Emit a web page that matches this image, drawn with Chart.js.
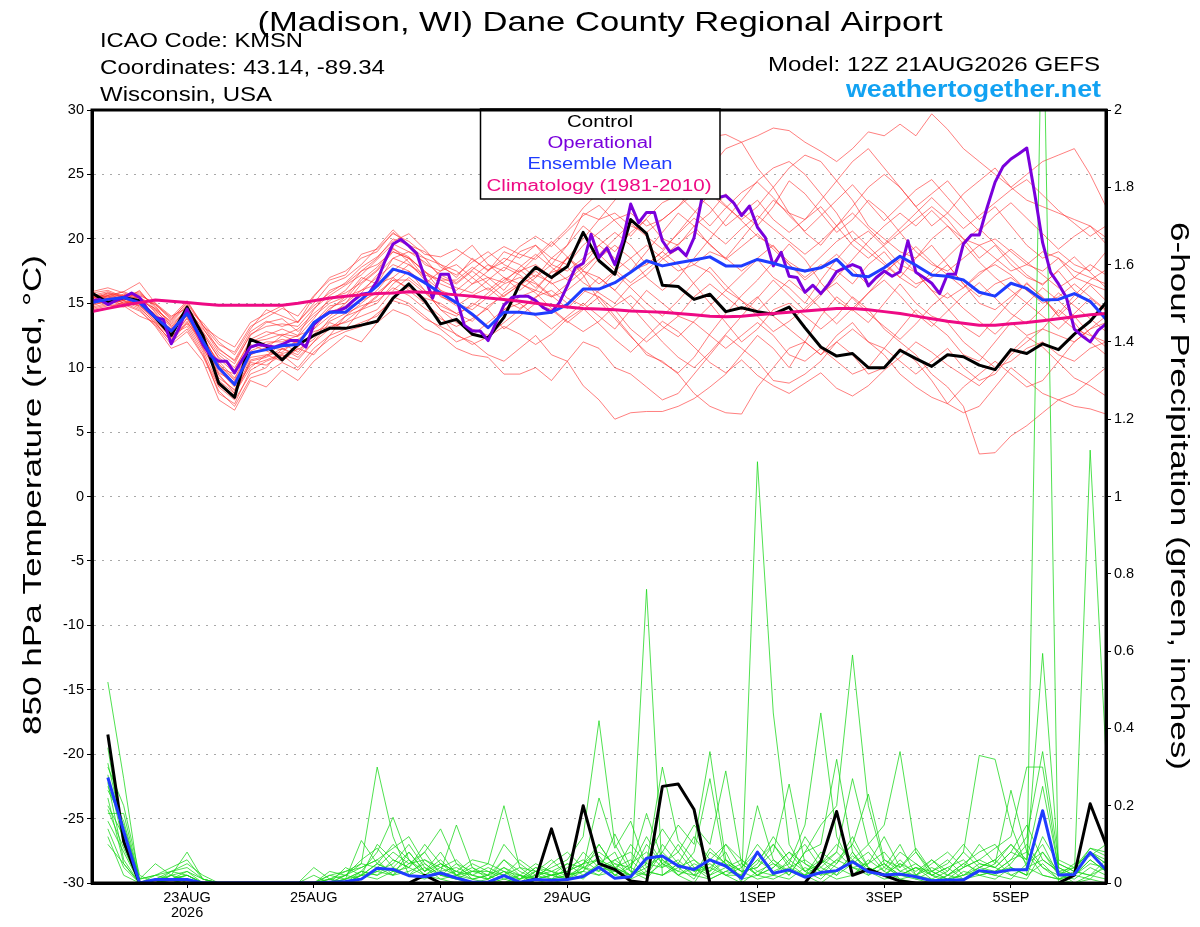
<!DOCTYPE html>
<html>
<head>
<meta charset="utf-8">
<script src="https://cdn.jsdelivr.net/npm/chart.js@4.4.1/dist/chart.umd.min.js"></script>
<style>
html,body{margin:0;padding:0;background:#fff;}
canvas{display:block;}
</style>
</head>
<body>
<canvas id="c" width="1200" height="927"></canvas>
<script>
// ---------------- DATA ----------------
// Time axis: hours after 12Z 21AUG2026. Temperature every 6 h from hour 0,
// operational every 3 h from hour 0, precipitation (6-h totals) every 6 h from hour 6.
const tempStepHours = 6;
const opStepHours = 3;
const precipStartHour = 6;

const xTickHours  = [36, 84, 132, 180, 252, 300, 348];
const xTickLabels = [['23AUG', '2026'], '25AUG', '27AUG', '29AUG', '1SEP', '3SEP', '5SEP'];

// 850 hPa temperature (deg C)
const controlTemp = [
  15.8,15.05,15.45,15.2,13.9,12.5,14.7,12.5,8.8,7.7,12.2,11.7,10.6,11.8,12.5,13.05,13.05,13.3,13.6,15.4,16.5,15.2,13.4,13.75,
  12.6,12.3,13.9,16.5,17.8,17.0,17.85,20.5,18.3,17.25,21.5,20.4,16.4,16.3,15.3,15.7,14.35,14.65,14.35,14.15,
  14.7,13.1,11.6,10.9,11.1,10.0,10.0,11.35,10.7,10.1,11.0,10.85,10.2,9.85,11.4,11.1,11.85,11.4,12.6,13.6,15.05
];
const operationalTemp = [
  15.2,15.3,14.9,15.2,15.45,15.8,15.45,14.55,13.9,13.75,
  11.85,13.1,14.55,13.1,11.8,10.9,10.5,10.5,9.6,10.65,
  11.6,11.8,11.7,11.6,11.8,12.1,12.1,11.6,13.35,13.9,
  14.3,14.4,14.65,15.2,15.7,15.8,16.75,18.3,19.6,19.95,
  19.45,18.85,17.0,15.4,17.25,17.25,15.4,13.3,12.85,12.85,
  12.1,13.5,14.85,15.45,15.55,15.55,15.2,14.65,14.3,15.05,
  16.35,17.75,18.1,20.35,18.55,19.3,18.0,19.85,22.7,21.25,
  22.05,22.05,19.85,18.95,19.3,18.7,20.1,23.2,24.0,23.2,
  23.35,22.8,21.8,22.55,20.9,20.1,17.9,18.95,17.1,17.0,
  15.85,16.4,15.75,16.5,17.45,17.75,18.0,17.75,16.35,17.0,
  17.5,17.1,17.45,19.85,17.4,17.0,16.55,15.75,17.25,17.25,
  19.6,20.3,20.3,22.45,24.4,25.6,26.2,26.6,27.05,23.5,
  19.7,17.4,16.5,15.45,13.0,12.45,12.0,12.9,13.4
];
const meanTemp = [
  15.05,15.3,15.45,15.05,13.9,12.85,14.2,12.05,10.0,8.7,11.15,11.4,11.7,11.8,13.5,14.3,14.3,15.3,16.35,17.65,17.3,16.6,15.8,15.05,
  14.15,13.1,14.3,14.3,14.15,14.3,14.9,16.1,16.1,16.6,17.4,18.3,17.9,18.15,18.35,18.6,17.9,17.9,18.4,18.1,
  17.75,17.5,17.75,18.4,17.2,17.05,17.75,18.65,17.95,17.2,17.1,16.8,15.85,15.55,16.55,16.15,15.25,15.3,15.75,15.15,13.75
];
const climoTemp = [
  14.35,14.6,14.85,15.05,15.25,15.15,15.05,14.95,14.85,14.85,14.85,14.85,14.85,15.0,15.2,15.4,15.55,15.65,15.75,15.8,15.9,15.85,
  15.75,15.65,15.55,15.4,15.3,15.15,15.0,14.85,14.7,14.6,14.55,14.5,14.4,14.35,14.3,14.2,14.1,14.0,13.95,14.0,14.1,
  14.2,14.3,14.4,14.5,14.6,14.6,14.5,14.35,14.2,14.0,13.8,13.6,13.45,13.3,13.3,13.4,13.5,13.65,13.8,13.95,14.1,14.2
];

// Ensemble member temperatures (6-hourly, 65 values each)
const memberTemp01 = [15.5,15.8,15.2,14.6,13.5,12.0,13.0,11.0,8.5,7.5,9.5,10.0,11.5,10.8, 12.0,13.5,13.0,14.5,15.5,17.0,16.0,15.0,14.0,12.5,12.0,11.0,10.5,11.5, 12.5,11.0,10.5,12.0,11.5,10.0,9.5,8.5,7.5,8.0,9.5,11.0,12.5,11.5, 10.5,9.0,8.8,9.5,10.5,12.0,11.0,9.5,10.0,11.5,10.5,9.0,7.2,6.5, 7.0,8.5,10.0,9.0,8.0,7.5,7.0,6.8,6.4];
const memberTemp02 = [15.2,15.5,15.9,16.6,15.0,13.8,15.0,13.2,12.3,11.6,13.5,14.2,14.8,13.5, 15.5,17.0,17.5,18.5,19.0,20.5,19.5,18.0,17.5,18.5,19.5,18.0,17.5,19.0, 19.5,18.0,19.5,22.0,21.5,22.0,21.0,20.5,21.5,22.5,24.0,25.5,27.0,27.5, 28.0,28.6,28.4,27.5,26.8,26.0,27.0,28.3,28.0,28.9,28.0,29.7,28.5,27.0, 26.0,25.0,24.0,23.0,22.5,22.0,21.5,21.0,20.1];
const memberTemp03 = [15.0,15.1,15.3,15.5,14.3,12.8,14.5,12.5,10.2,9.0,11.0,11.5,12.5,12.0, 13.5,14.8,15.0,16.5,17.5,19.0,18.5,17.0,16.0,15.5,16.5,17.0,16.0,17.5, 18.0,17.0,18.5,20.0,21.5,23.0,24.5,25.0,25.5,26.0,27.0,27.9,28.1,27.5, 25.5,24.0,22.0,21.5,23.0,24.5,23.0,21.0,20.0,19.0,18.5,20.0,21.0,20.0, 19.5,20.0,19.0,18.0,17.5,18.5,17.0,16.5,16.0];
const memberTemp04 = [15.8,16.0,15.5,15.0,13.8,13.0,14.0,11.5,9.5,8.0,10.5,10.8,11.5,11.0, 12.5,13.0,14.0,15.0,16.0,17.5,18.5,17.5,16.0,15.0,14.0,13.0,14.5,15.5, 16.0,15.5,16.5,17.5,17.0,16.0,17.5,18.0,19.0,18.0,16.5,15.0,13.5,12.0, 13.0,14.5,15.0,14.0,13.0,14.0,15.5,14.5,13.0,12.0,11.0,9.5,8.5,7.0, 3.3,3.4,4.7,5.5,6.5,7.5,8.0,9.0,10.0];
const memberTemp05 = [14.5,14.8,15.0,14.5,13.2,11.5,12.0,10.5,7.5,6.7,9.0,8.5,9.8,9.0, 10.5,11.5,12.5,12.0,13.5,14.5,14.0,13.0,12.5,11.5,11.0,10.8,9.5,9.5, 10.0,9.0,10.5,8.6,7.5,6.0,6.5,6.6,6.6,7.0,7.6,8.5,9.5,11.0, 12.5,11.5,10.0,12.0,14.0,15.5,14.5,13.5,15.0,16.5,15.0,14.0,13.5,12.0, 11.0,10.0,10.5,11.5,12.0,11.0,10.5,11.5,12.0];
const memberTemp06 = [15.3,15.6,15.0,15.2,14.6,13.5,14.8,12.8,11.0,10.0,12.0,12.5,13.0,12.5, 14.5,16.0,16.5,17.5,18.5,20.0,19.5,18.5,18.0,17.0,18.5,17.5,18.5,18.0, 17.0,18.5,19.5,21.0,20.0,19.0,20.5,21.5,20.0,19.5,21.0,22.0,23.5,22.0, 21.0,22.5,24.5,23.5,22.0,20.5,21.5,23.0,22.0,20.5,21.5,22.5,21.5,20.0, 18.5,19.5,18.0,17.0,16.5,17.5,16.0,15.0,14.0];
const memberTemp07 = [14.8,15.2,14.8,14.0,13.5,12.0,13.5,12.0,9.0,8.0,10.0,11.0,10.5,11.5, 11.0,12.5,14.0,14.5,15.0,16.5,17.5,16.0,14.5,14.0,15.0,14.5,13.0,14.0, 15.0,14.5,13.5,14.5,15.5,14.0,12.5,11.0,10.5,9.5,8.0,7.0,6.5,6.4, 8.5,10.0,11.5,12.0,11.0,12.5,13.5,12.0,11.5,13.0,14.5,13.5,12.5,11.0, 10.5,12.0,13.5,12.5,13.0,14.5,13.5,12.0,11.0];
const memberTemp08 = [15.5,15.4,15.7,15.3,14.0,13.0,14.2,12.2,10.5,9.2,11.5,12.0,12.0,12.5, 13.0,14.5,15.5,17.0,16.5,18.5,19.0,18.5,17.0,16.5,17.5,16.5,15.5,16.5, 17.5,16.5,17.0,18.0,19.5,18.5,17.5,19.0,20.5,22.0,21.0,19.5,18.5,20.0, 21.5,23.0,22.0,20.5,19.5,21.0,22.5,24.0,25.0,24.0,22.5,21.0,22.0,23.5, 24.5,25.5,24.0,25.0,26.0,26.5,27.0,25.0,22.5];
const memberTemp09 = [15.0,15.3,15.6,15.8,14.8,13.2,14.0,13.0,11.5,10.5,12.5,13.5,13.8,12.8, 14.0,15.0,15.5,16.0,17.0,18.0,17.5,16.5,17.5,18.0,17.0,16.0,17.0,16.5, 16.0,17.5,18.5,17.5,16.5,17.5,18.5,19.5,18.5,17.5,18.0,19.0,18.5,17.5, 18.5,19.5,18.0,17.0,18.0,17.5,16.5,18.0,19.0,17.5,16.5,17.0,18.0,16.5, 15.5,16.5,17.0,16.0,15.0,15.5,16.5,15.5,14.5];
const memberTemp10 = [15.6,15.9,15.4,14.8,13.6,12.3,13.8,11.8,9.8,8.5,10.8,11.0,11.2,12.2, 13.0,14.0,15.0,16.0,16.5,17.0,18.0,17.0,15.5,15.0,14.5,15.5,16.5,17.0, 16.5,15.5,16.0,17.0,18.5,19.5,18.5,17.0,16.0,17.0,18.5,20.0,21.5,23.0, 24.5,25.5,26.0,25.0,23.5,22.0,20.0,19.0,18.0,17.0,18.5,19.5,18.0,16.5, 15.0,14.5,15.5,16.5,15.5,14.0,13.0,12.5,12.0];
const memberTemp11 = [15.2,15.0,15.2,15.0,14.2,12.6,14.3,12.3,10.0,9.5,11.8,11.3,10.8,11.6, 12.8,13.2,13.5,14.0,14.5,16.0,17.0,16.0,14.5,13.5,13.0,12.5,13.5,14.5, 15.5,16.0,15.0,16.0,15.5,14.5,13.0,12.0,13.0,14.0,13.5,12.5,11.5,12.5, 13.5,12.5,11.0,10.5,11.5,10.5,9.5,10.0,11.5,10.5,9.5,10.5,11.5,10.0, 9.0,9.5,11.0,12.0,13.0,12.5,12.0,13.0,13.5];
const memberTemp12 = [15.4,15.7,15.5,15.6,15.0,14.0,14.6,13.5,12.0,11.0,13.0,14.5,14.0,13.5, 15.0,16.5,17.0,18.0,19.3,20.7,19.5,19.0,18.0,17.5,16.5,17.5,19.0,18.5, 19.5,18.5,18.0,19.5,20.5,21.5,22.0,21.0,21.5,22.5,23.5,22.5,21.0,22.0, 23.0,21.5,20.5,21.5,22.5,21.0,19.5,18.5,19.5,20.5,19.0,18.0,17.5,18.5, 19.5,18.5,17.5,18.0,19.0,18.5,17.5,17.0,16.5];
const memberTemp13 = [14.3,14.6,15.1,14.8,13.8,12.5,13.2,11.2,8.0,7.2,9.8,10.5,11.0,10.0, 11.5,12.5,13.0,13.5,14.0,15.5,15.0,14.0,13.0,12.0,12.5,13.5,14.5,15.0, 14.0,13.0,14.0,15.0,14.0,13.0,14.5,16.0,15.0,14.0,15.5,16.5,15.5,14.5, 15.5,14.0,13.0,12.0,11.0,12.0,13.0,12.0,11.0,9.5,8.5,7.7,7.2,8.5, 9.5,10.5,9.5,8.5,9.0,10.5,12.0,13.0,14.0];
const memberTemp14 = [15.1,15.4,15.2,16.0,14.5,13.6,14.9,12.6,10.8,9.8,12.2,12.8,12.5,13.0, 14.2,15.2,16.0,17.5,18.0,19.0,18.5,17.5,16.5,16.0,17.0,18.0,17.0,16.0, 17.0,18.0,17.5,18.5,19.5,20.5,19.5,18.0,19.0,20.5,22.0,23.5,22.5,21.5, 22.5,24.0,25.5,26.5,26.0,24.5,26.0,27.0,25.5,24.0,22.5,23.5,24.5,23.0, 21.5,22.5,21.0,19.5,18.5,19.0,18.0,17.5,19.0];
const memberTemp15 = [15.9,16.2,15.8,15.4,14.4,13.3,14.4,12.4,10.3,9.1,11.3,11.8,12.2,11.9, 13.3,14.3,14.8,15.8,17.2,18.5,18.0,17.2,16.8,16.2,15.8,16.8,17.8,17.2, 16.2,17.4,17.8,16.6,15.8,15.0,16.4,17.2,18.4,19.2,18.0,17.4,16.0,17.2, 18.4,17.0,16.2,15.0,16.8,18.4,19.8,20.6,19.4,18.0,17.4,16.0,15.4,16.2, 17.4,18.0,17.2,16.0,15.4,14.0,15.2,16.4,15.2];
const memberTemp16 = [14.6,14.9,14.7,15.3,13.9,12.2,13.6,11.6,9.2,8.3,10.2,10.6,11.1,11.4, 12.2,13.8,14.6,15.2,15.8,16.8,16.2,15.4,15.0,14.2,13.6,14.8,15.6,16.4, 17.2,16.6,15.4,14.8,16.0,17.4,16.2,15.0,14.0,15.2,16.6,17.8,16.4,15.2, 14.4,15.6,16.8,15.8,14.6,13.4,14.6,15.8,16.8,15.6,14.2,13.2,14.4,15.6, 16.6,15.4,14.2,13.4,14.6,15.8,14.8,13.8,12.8];
const memberTemp17 = [15.7,15.5,15.0,15.1,14.1,12.9,14.1,12.1,9.6,8.9,11.0,11.6,11.4,12.0, 13.4,14.6,15.3,16.8,17.8,19.3,18.2,16.8,15.6,14.8,15.6,16.2,15.2,14.6, 15.4,16.8,18.6,17.2,15.2,13.8,12.4,11.2,10.4,9.6,10.8,12.6,14.2,15.6, 16.8,18.2,19.6,18.4,16.6,15.2,14.4,15.8,17.2,18.6,17.4,16.0,14.6,13.2, 12.4,13.8,15.2,16.6,15.4,14.2,15.6,16.8,17.6];
const memberTemp18 = [15.0,15.6,15.9,15.4,14.9,13.9,15.2,13.3,11.8,11.2,13.2,13.9,14.6,14.0, 15.6,16.8,17.2,18.8,19.2,20.4,19.8,18.8,18.6,19.2,18.4,17.6,18.2,19.4, 20.2,19.4,20.6,21.8,22.6,21.4,20.2,21.6,22.8,23.4,22.2,21.0,22.4,23.6, 24.4,23.2,21.8,20.6,21.8,23.0,24.2,22.8,21.4,22.6,23.8,24.6,23.2,21.8, 20.6,21.8,22.8,21.6,20.4,19.2,20.2,21.0,19.6];
const memberTemp19 = [14.9,15.1,15.4,14.7,13.4,12.1,13.9,11.9,9.4,8.2,10.6,10.9,11.9,11.2, 12.6,13.6,14.2,14.8,15.2,16.2,15.6,14.6,13.8,13.2,13.8,14.6,15.8,16.6, 15.8,14.6,13.6,12.8,13.6,14.8,15.6,14.4,13.2,12.4,13.6,14.8,16.0,15.2, 14.0,12.8,13.6,14.6,15.8,16.6,15.4,14.2,13.2,12.2,13.4,14.8,15.8,14.6, 13.6,12.6,13.8,15.0,16.2,15.2,14.0,12.6,11.6];
const memberTemp20 = [15.3,15.2,15.6,15.9,14.7,13.4,14.5,13.1,11.2,10.3,12.6,13.2,13.4,13.2, 14.6,15.6,16.4,17.2,18.4,19.6,19.0,18.2,17.2,16.6,17.6,18.6,19.4,18.8, 18.4,19.6,20.8,22.4,23.6,24.8,25.8,26.6,27.2,26.4,25.2,23.8,22.6,21.4, 20.2,19.4,18.2,17.4,18.6,19.8,20.6,19.4,18.2,17.0,16.2,17.4,18.6,19.8, 20.8,19.6,18.4,17.2,16.4,17.6,18.6,17.4,16.2];
const memberTemp21 = [15.6,15.3,14.9,14.4,13.3,11.8,12.8,10.9,8.2,7.0,9.2,9.6,10.4,9.8, 11.2,12.2,12.8,13.2,14.2,15.2,14.8,13.8,13.2,12.6,11.8,12.4,13.2,12.6, 11.8,12.6,13.8,14.6,13.4,12.2,11.2,12.4,13.6,12.8,11.6,10.4,9.6,10.6, 9.4,8.6,8.0,8.8,9.6,8.4,7.8,8.6,9.8,10.8,12.0,11.2,10.2,9.4, 8.6,9.8,11.2,12.4,11.6,10.4,9.2,8.6,7.8];
const memberTemp22 = [15.2,15.8,15.6,15.7,14.9,13.7,15.1,13.3,11.4,10.6,12.8,13.6,13.2,13.6, 14.8,15.8,16.6,17.8,18.6,19.8,20.4,19.2,17.8,17.2,18.2,19.0,18.0,17.4, 18.6,19.8,18.6,17.6,18.8,20.0,21.2,20.2,19.2,20.4,21.6,20.6,19.6,20.8, 21.8,20.8,19.8,18.8,19.8,21.0,22.0,20.8,19.6,20.8,22.0,23.2,22.0,20.8, 21.8,22.8,23.8,24.6,23.4,22.2,21.2,20.2,21.0];
const memberTemp23 = [15.4,15.6,15.3,15.5,14.5,13.1,14.6,12.7,10.7,9.6,12.0,12.2,12.6,12.4, 13.8,15.4,15.8,16.6,17.6,19.2,18.6,17.4,16.8,16.8,17.8,17.0,16.6,17.8, 18.8,17.8,16.8,17.8,18.8,17.6,16.6,17.6,18.6,19.6,20.6,19.6,18.4,19.4, 20.4,19.2,18.0,16.8,17.8,18.8,17.6,16.4,17.4,18.4,19.4,18.2,17.2,16.2, 17.2,18.2,19.2,18.2,17.2,16.2,17.0,18.0,17.2];
const memberTemp24 = [14.7,15.0,15.2,14.9,13.7,12.4,13.4,11.4,8.6,7.9,10.4,10.2,11.0,10.6, 12.0,13.0,13.6,14.6,15.6,16.8,16.8,15.8,14.8,14.2,14.8,15.8,16.8,17.6, 16.6,15.6,14.6,15.8,17.0,16.0,14.8,13.4,12.0,10.8,10.0,11.2,12.6,14.0, 15.4,16.8,15.6,14.4,15.6,17.0,18.4,19.8,21.0,22.0,21.0,22.2,21.0,19.6, 18.2,17.0,16.0,15.0,14.0,13.0,14.2,15.4,14.4];

// 6-hour precipitation (inches), hours 6..384 (64 values)
const controlPrecip = [
  0.384,0.108,0,0,0,0,0,0, 0,0,0,0,0,0,0,0, 0,0,0,0,0.02,0,0,0, 0,0,0,0.01,0.14,0.01,0.2,0.05,
  0.035,0.005,0,0.25,0.256,0.19,0,0, 0,0,0,0,0,0.055,0.185,0.02, 0.035,0.02,0.005,0,0,0,0,0, 0,0,0,0,0,0.02,0.205,0.1
];
const meanPrecip = [
  0.273,0.134,0,0.009,0.009,0.009,0,0, 0,0,0,0,0,0,0.002,0.004, 0.01,0.038,0.035,0.019,0.016,0.026,0.013,0.002,
  0.002,0.019,0.002,0.009,0.007,0.009,0.017,0.041, 0.012,0.016,0.064,0.07,0.044,0.035,0.06,0.044,
  0.012,0.08,0.025,0.034,0.015,0.027,0.032,0.055, 0.029,0.021,0.023,0.016,0.006,0.008,0.008,0.032,
  0.027,0.034,0.034,0.187,0.021,0.022,0.079,0.034
];
const memberPrecip01 = [0.52,0.27,0,0.01,0.03,0.05,0.02,0, 0,0,0,0,0,0,0.02,0.03, 0.05,0.30,0.12,0.02,0.04,0.01,0,0, 0,0,0.02,0,0,0.01,0.03,0.1, 0.04,0.02,0.1,0.05,0.02,0,0.06,0.02, 0,0.03,0.05,0.02,0.08,0.15,0.2,0.59, 0.2,0.05,0.01,0,0,0.02,0.05,0.03, 0.02,0.01,0.05,0.1,0.02,0.01,0.04,0.02];
const memberPrecip02 = [0.28,0.10,0,0,0.02,0.08,0.01,0, 0,0,0,0,0,0,0,0.01, 0.03,0.08,0.17,0.06,0.03,0.08,0.02,0, 0.01,0.03,0,0.02,0.04,0.06,0.12,0.42, 0.1,0.03,0.01,0.06,0.02,0.04,0.01,0.03, 0.02,0.06,0.1,0.04,0.02,0,0.03,0.06, 0.1,0.15,0.34,0.08,0.02,0,0.01,0.04, 0.06,0.02,0.01,0.08,0.03,0,0.01,0.05];
const memberPrecip03 = [0.25,0.15,0.01,0.02,0.04,0.06,0.01,0, 0,0,0,0,0,0,0.01,0.02, 0.04,0.06,0.09,0.12,0.05,0.02,0.01,0, 0,0.01,0,0.03,0.02,0.01,0.02,0.05, 0.08,0,0.76,0.02,0.04,0.01,0.08,0.05, 0.01,0.02,0.04,0.08,0.03,0.01,0.05,0.1, 0.04,0.02,0.06,0.02,0.01,0.03,0.08,0.33, 0.32,0.15,0.04,0.02,0.01,0.02,0.06,0.03];
const memberPrecip04 = [0.22,0.05,0,0,0.01,0.02,0,0, 0,0,0,0,0,0,0,0.04, 0.02,0.1,0.06,0.04,0.08,0.14,0.05,0.01, 0.02,0.06,0.03,0.01,0.05,0.08,0.04,0.02, 0.03,0.1,0.05,0.3,0.11,0.06,0.02,0.04, 0.06,0.03,0.02,0.04,0.06,0.03,0.01,0.02, 0.05,0.12,0.04,0.09,0.03,0.01,0.04,0.1, 0.05,0.24,0.08,0.02,0.01,0.03,0.02,0.04];
const memberPrecip05 = [0.2,0.12,0,0,0,0.01,0,0, 0,0,0,0,0,0,0.03,0.02, 0.01,0.04,0.08,0.05,0.06,0.03,0.15,0.04, 0.02,0,0.01,0.04,0.02,0.03,0.05,0.08, 0.05,0.02,0.04,0.08,0.15,0.1,0.34,0.06, 0.03,0.01,0.02,0.06,0.1,0.04,0.02,0.08, 0.02,0.04,0.1,0.02,0.05,0.08,0.04,0.06, 0.09,0.12,0.3,0.3,0.04,0.02,0.08,0.05];
const memberPrecip06 = [0.18,0.18,0.01,0.05,0.02,0,0,0, 0,0,0,0,0,0.04,0.01,0, 0.02,0.03,0.05,0.1,0.04,0.02,0.03,0.06, 0.05,0.2,0.04,0.01,0.02,0.01,0.04,0.06, 0.02,0.04,0.12,0.05,0.08,0.15,0.1,0.29, 0.05,0.02,0.01,0.03,0.02,0.05,0.08,0.04, 0.03,0.01,0.02,0.04,0.01,0,0.03,0.02, 0.01,0.04,0.02,2.4,0,0.02,0.01,0];
const memberPrecip07 = [0.16,0.08,0,0,0.03,0.04,0.01,0, 0,0,0,0,0,0,0,0.01, 0.11,0.05,0.03,0.02,0.06,0.04,0.02,0.01, 0,0.02,0.06,0.03,0.01,0.02,0.08,0.04, 0.06,0.03,0.02,0.1,0.05,0.02,0.04,0.08, 0,1.09,0.44,0.1,0.03,0.06,0.02,0.05, 0.08,0.03,0.01,0.02,0.04,0.02,0.01,0.03, 0.02,0.05,0.1,0.04,0.01,0,0.02,0.01];
const memberPrecip08 = [0.26,0.06,0,0.02,0.01,0.03,0,0, 0,0,0,0,0,0,0,0, 0.03,0.02,0.04,0.08,0.03,0.06,0.02,0.05, 0.03,0.01,0.02,0.05,0.03,0.02,0.04,0.22, 0.09,0.16,0.04,0.07,0.02,0.05,0.03,0.06, 0.03,0.04,0.08,0.256,0.05,0.02,0.03,0.07, 0.04,0.02,0.05,0.01,0,0.02,0.04,0.06, 0.04,0.08,0.06,0.594,0.05,0.03,0.02,0.06];
const memberPrecip09 = [0.3,0.2,0.02,0,0.01,0.02,0,0, 0,0,0,0,0,0,0,0.02, 0.06,0.09,0.04,0.02,0.01,0.03,0.04,0.02, 0.01,0.03,0.02,0,0.01,0.04,0.06,0.03, 0.127,0.04,0.18,0.06,0.03,0.08,0.27,0.04, 0.02,0.06,0.03,0.05,0.15,0.44,0.12,0.04, 0.05,0.08,0.03,0.02,0.06,0.03,0.08,0.04, 0.03,0.06,0.12,0.34,0.06,0.04,0.09,0.08];
const memberPrecip10 = [0.35,0.1,0,0,0,0.01,0,0, 0,0,0,0,0,0,0,0, 0.02,0.05,0.03,0.04,0.02,0.05,0.03,0.02, 0.04,0.02,0.01,0.03,0.02,0.05,0.02,0.04, 0.03,0.02,0.05,0.04,0.1,0.04,0.02,0.06, 0.01,0.2,0.06,0.02,0.08,0.1,0.32,0.08, 0.03,0.05,0.02,0.04,0.03,0.01,0.02,0.05, 0.04,0.02,0.04,0.06,0.03,0.02,1.12,0.33];
const memberPrecip11 = [0.12,0.02,0,0,0.02,0.03,0.01,0, 0,0,0,0,0,0,0.01,0.03, 0.04,0.06,0.02,0.05,0.08,0.02,0.01,0.03, 0.02,0.04,0.01,0.02,0.03,0.01,0.05,0.1, 0.04,0.06,0.02,0.05,0.03,0.02,0.01,0.03, 0.05,0.02,0.06,0.03,0.02,0.04,0.08,0.27, 0.1,0.04,0.02,0.01,0.03,0.06,0.02,0.04, 0.06,0.1,0.05,0.08,0.02,0.04,0.08,0.06];
const memberPrecip12 = [0.1,0.05,0,0.01,0,0,0,0, 0,0,0,0,0,0,0.02,0.01, 0.02,0.01,0.03,0.06,0.02,0.01,0.02,0.04, 0.01,0.06,0.02,0.01,0.02,0.03,0.01,0.05, 0.02,0.01,0.03,0.02,0.05,0.03,0.04,0.02, 0.04,0.08,0.02,0.01,0.04,0.02,0.06,0.1, 0.23,0.06,0.03,0.05,0.02,0.04,0.01,0.02, 0.03,0.04,0.02,0.05,0.01,0.02,0.06,0.03];
const memberPrecip13 = [0.14,0.04,0,0,0.01,0.02,0,0, 0,0,0,0,0,0,0.01,0, 0.02,0.05,0.1,0.06,0.02,0.04,0.06,0.02, 0.01,0.04,0.02,0.01,0.02,0.03,0.05,0.06, 0.04,0.02,0.06,0.14,0.08,0.03,0.05,0.02, 0.02,0.05,0.12,0.06,0.03,0.05,0.1,0.06, 0.03,0.05,0.02,0.04,0.02,0.01,0.02,0.03, 0.05,0.1,0.06,0.25,0.04,0.02,0.05,0.04];
const memberPrecip14 = [0.19,0.09,0,0.01,0.02,0.01,0,0, 0,0,0,0,0,0.02,0,0.01, 0.03,0.02,0.06,0.04,0.1,0.05,0.03,0.01, 0.02,0.1,0.05,0.02,0.01,0.02,0.03,0.02, 0.06,0.08,0.03,0.02,0.05,0.12,0.06,0.1, 0.04,0.1,0.05,0.03,0.12,0.06,0.04,0.02, 0.06,0.03,0.08,0.05,0.02,0.04,0.06,0.02, 0.03,0.06,0.08,0.04,0.02,0.05,0.07,0.1];
const memberPrecip15 = [0.31,0.13,0,0,0,0,0,0, 0,0,0,0,0,0,0,0, 0.01,0.03,0.02,0.03,0.05,0.02,0.05,0.03, 0.03,0.02,0.04,0.03,0.06,0.02,0.03,0.07, 0.02,0.05,0.08,0.04,0.06,0.02,0.09,0.05, 0.03,0.04,0.1,0.05,0.02,0.08,0.05,0.12, 0.04,0.02,0.05,0.03,0.06,0.02,0.05,0.08, 0.1,0.04,0.02,0.12,0.05,0.03,0.09,0.07];
const memberPrecip16 = [0.24,0.16,0.01,0.02,0.03,0.02,0,0, 0,0,0,0,0,0,0,0.02, 0.05,0.04,0.02,0.08,0.03,0.05,0.02,0.03, 0.05,0.03,0.01,0.04,0.03,0.05,0.04,0.03, 0.05,0.04,0.02,0.08,0.04,0.06,0.03,0.1, 0.06,0.02,0.04,0.08,0.05,0.03,0.06,0.04, 0.02,0.06,0.04,0.08,0.03,0.05,0.1,0.05, 0.04,0.08,0.15,0.06,0.03,0.04,0.08,0.05];

const memberTemps = [memberTemp01, memberTemp02, memberTemp03, memberTemp04, memberTemp05, memberTemp06, memberTemp07, memberTemp08,
                     memberTemp09, memberTemp10, memberTemp11, memberTemp12, memberTemp13, memberTemp14, memberTemp15, memberTemp16,
                     memberTemp17, memberTemp18, memberTemp19, memberTemp20, memberTemp21, memberTemp22, memberTemp23, memberTemp24];
const memberPrecips = [memberPrecip01, memberPrecip02, memberPrecip03, memberPrecip04, memberPrecip05, memberPrecip06,
                       memberPrecip07, memberPrecip08, memberPrecip09, memberPrecip10, memberPrecip11, memberPrecip12,
                       memberPrecip13, memberPrecip14, memberPrecip15, memberPrecip16];

// ---------------- STYLE ----------------
const FONT = '"Liberation Sans", Arial, Helvetica, sans-serif';
const C_CONTROL = '#000000';
const C_OPER = '#7a00dc';
const C_MEAN = '#1f3cff';
const C_CLIMO = '#ee0a84';
const C_MEMBER_T = 'rgba(255,45,45,0.68)';
const C_MEMBER_P = 'rgba(25,215,25,0.85)';

const pts = (vals, start, step) => vals.map((v, k) => ({x: start + k * step, y: v}));

const datasets = [];
memberTemps.forEach(m => datasets.push({data: pts(m, 0, tempStepHours), yAxisID: 'yT', borderColor: C_MEMBER_T, borderWidth: 0.9, order: 20}));
memberPrecips.forEach(m => datasets.push({data: pts(m, precipStartHour, tempStepHours), yAxisID: 'yP', borderColor: C_MEMBER_P, borderWidth: 0.9, order: 15}));
datasets.push({data: pts(controlPrecip, precipStartHour, tempStepHours), yAxisID: 'yP', borderColor: C_CONTROL, borderWidth: 3, order: 6});
datasets.push({data: pts(meanPrecip, precipStartHour, tempStepHours), yAxisID: 'yP', borderColor: C_MEAN, borderWidth: 3, order: 5});
datasets.push({data: pts(controlTemp, 0, tempStepHours), yAxisID: 'yT', borderColor: C_CONTROL, borderWidth: 3, order: 4});
datasets.push({data: pts(operationalTemp, 0, opStepHours), yAxisID: 'yT', borderColor: C_OPER, borderWidth: 3, order: 3});
datasets.push({data: pts(meanTemp, 0, tempStepHours), yAxisID: 'yT', borderColor: C_MEAN, borderWidth: 3, order: 2});
datasets.push({data: pts(climoTemp, 0, tempStepHours), yAxisID: 'yT', borderColor: C_CLIMO, borderWidth: 3, order: 1});
datasets.forEach(d => { d.pointRadius = 0; d.tension = 0; d.fill = false; d.borderJoinStyle = 'round'; });

// Draw text stretched horizontally to a given width
function fitText(ctx, text, x, y, width, align, font, color) {
  ctx.save();
  ctx.font = font;
  ctx.fillStyle = color;
  const w = ctx.measureText(text).width;
  ctx.translate(x, y);
  ctx.scale(width / w, 1);
  ctx.textAlign = align;
  ctx.textBaseline = 'alphabetic';
  ctx.fillText(text, 0, 0);
  ctx.restore();
}

const decor = {
  id: 'decor',
  afterDatasetsDraw(chart) {
    const ctx = chart.ctx;
    // legend box
    ctx.save();
    ctx.fillStyle = '#fff';
    ctx.fillRect(480, 109, 240, 90);
    ctx.strokeStyle = '#000';
    ctx.lineWidth = 1.5;
    ctx.strokeRect(480.5, 109, 239.5, 90);
    ctx.restore();
    const lf = '16px ' + FONT;
    fitText(ctx, 'Control', 600, 127, 66, 'center', lf, C_CONTROL);
    fitText(ctx, 'Operational', 600, 148, 105, 'center', lf, C_OPER);
    fitText(ctx, 'Ensemble Mean', 600, 169, 145, 'center', lf, C_MEAN);
    fitText(ctx, 'Climatology (1981-2010)', 599, 191, 225, 'center', lf, C_CLIMO);
  },
  afterDraw(chart) {
    const ctx = chart.ctx;
    const a = chart.chartArea;
    // frame
    ctx.save();
    ctx.strokeStyle = '#000';
    ctx.lineWidth = 3;
    ctx.strokeRect(a.left, a.top, a.right - a.left, a.bottom - a.top);
    ctx.restore();
    // titles
    fitText(ctx, '(Madison, WI) Dane County Regional Airport', 600, 31, 685, 'center', '28px ' + FONT, '#000');
    fitText(ctx, 'ICAO Code: KMSN', 100, 47, 203, 'left', '21px ' + FONT, '#000');
    fitText(ctx, 'Coordinates: 43.14, -89.34', 100, 74, 285, 'left', '21px ' + FONT, '#000');
    fitText(ctx, 'Wisconsin, USA', 100, 100.5, 172, 'left', '21px ' + FONT, '#000');
    fitText(ctx, 'Model: 12Z 21AUG2026 GEFS', 1100, 70.5, 332, 'right', '20px ' + FONT, '#000');
    fitText(ctx, 'weathertogether.net', 1101, 97, 255, 'right', 'bold 23px ' + FONT, '#12a2f2');
    // axis titles
    ctx.save();
    ctx.translate(41, 495);
    ctx.rotate(-Math.PI / 2);
    fitText(ctx, '850 hPa Temperature (red, °C)', 0, 0, 480, 'center', '26px ' + FONT, '#000');
    ctx.restore();
    ctx.save();
    ctx.translate(1171, 496);
    ctx.rotate(Math.PI / 2);
    fitText(ctx, '6-hour Precipitation (green, inches)', 0, 0, 548, 'center', '26px ' + FONT, '#000');
    ctx.restore();
  }
};

const tickFont = {family: FONT, size: 14.5};

new Chart(document.getElementById('c'), {
  type: 'line',
  data: {datasets},
  options: {
    responsive: false,
    animation: false,
    devicePixelRatio: 1,
    layout: {padding: {top: 110, left: 0, right: 0, bottom: 0}},
    plugins: {legend: {display: false}, tooltip: {enabled: false}, title: {display: false}},
    scales: {
      x: {
        type: 'linear', position: 'bottom', min: 0, max: 384,
        afterBuildTicks: s => { s.ticks = xTickHours.map(v => ({value: v})); },
        afterFit: s => { s.height = 44; },
        ticks: {
          autoSkip: false, maxRotation: 0, minRotation: 0, padding: 2, color: '#000',
          font: {family: FONT, size: 14.5, lineHeight: 1.05},
          callback: v => { const k = xTickHours.indexOf(v); return k >= 0 ? xTickLabels[k] : ''; }
        },
        grid: {drawOnChartArea: false, drawTicks: true, tickLength: 5, tickColor: '#000', tickWidth: 1},
        border: {color: '#000', width: 3}
      },
      yT: {
        type: 'linear', position: 'left', min: -30, max: 30,
        afterFit: s => { s.width = 92; },
        ticks: {stepSize: 5, color: '#000', font: tickFont, padding: 3, callback: v => String(v)},
        grid: {drawOnChartArea: true, color: '#a8a8a8', lineWidth: 1, tickLength: 5, tickColor: '#000', tickWidth: 1},
        border: {color: '#000', width: 3, dash: [2, 6]}
      },
      yP: {
        type: 'linear', position: 'right', min: 0, max: 2,
        afterFit: s => { s.width = 94; },
        ticks: {stepSize: 0.2, color: '#000', font: tickFont, padding: 3, callback: v => String(Math.round(v * 10) / 10)},
        grid: {drawOnChartArea: false, tickLength: 5, tickColor: '#000', tickWidth: 1},
        border: {color: '#000', width: 3}
      }
    }
  },
  plugins: [decor]
});
</script>
</body>
</html>
